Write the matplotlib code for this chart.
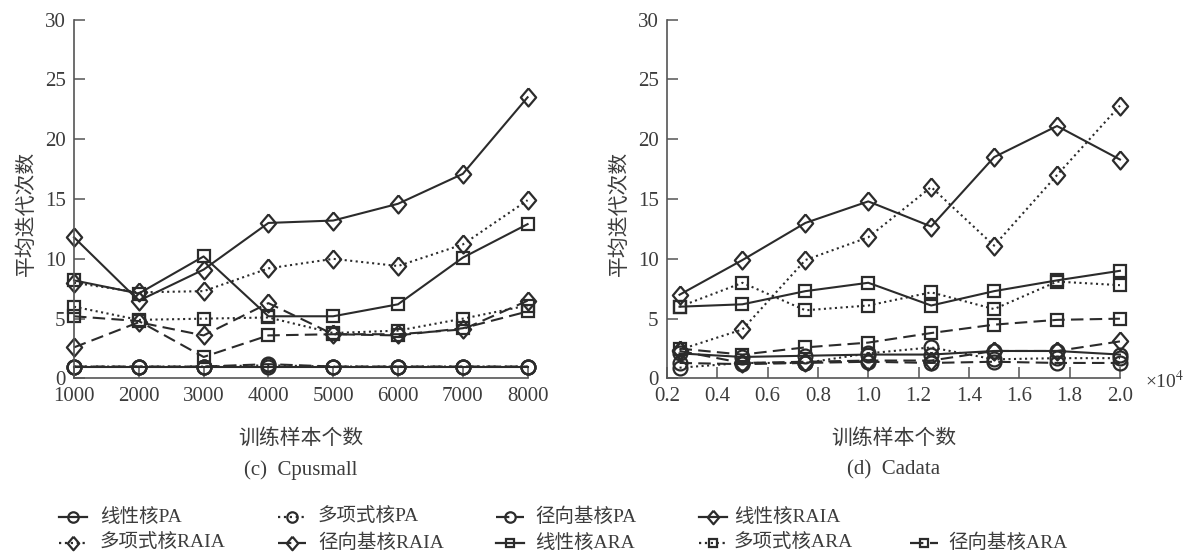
import matplotlib
matplotlib.use("Agg")
import matplotlib.pyplot as plt
from matplotlib.lines import Line2D

plt.rcParams['font.family'] = ['Liberation Serif', 'Noto Sans CJK SC']
plt.rcParams['mathtext.fontset'] = 'stix'

# Cpusmall (left)
x_c = [1000, 2000, 3000, 4000, 5000, 6000, 7000, 8000]
lin_pa_c = [1.0, 1.0, 1.0, 1.0, 1.0, 1.0, 1.0, 1.0]
poly_pa_c = [1.0, 1.0, 1.0, 1.1, 1.0, 1.0, 1.0, 1.0]
rbf_pa_c = [1.0, 1.0, 1.0, 1.2, 1.0, 1.0, 1.0, 1.0]
lin_raia_c = [11.8, 6.5, 9.1, 13.0, 13.2, 14.6, 17.1, 23.5]
poly_raia_c = [8.0, 7.2, 7.3, 9.2, 10.0, 9.4, 11.2, 14.9]
rbf_raia_c = [2.6, 4.7, 3.6, 6.3, 3.7, 3.7, 4.1, 6.5]
lin_ara_c = [8.2, 7.1, 10.2, 5.2, 5.2, 6.2, 10.1, 12.9]
poly_ara_c = [6.0, 4.9, 5.0, 5.1, 3.8, 4.0, 5.0, 6.1]
rbf_ara_c = [5.2, 4.8, 1.8, 3.6, 3.7, 3.6, 4.2, 5.6]

# Cadata (right), x in units of 1e4
x_d = [0.25, 0.5, 0.75, 1.0, 1.25, 1.5, 1.75, 2.0]
lin_pa_d = [2.1, 1.8, 1.9, 2.0, 2.0, 2.3, 2.3, 2.0]
poly_pa_d = [0.9, 1.3, 1.3, 2.1, 2.6, 1.6, 1.7, 1.7]
rbf_pa_d = [1.3, 1.2, 1.3, 1.4, 1.3, 1.4, 1.3, 1.3]
lin_raia_d = [7.0, 9.9, 13.0, 14.8, 12.7, 18.5, 21.1, 18.3]
poly_raia_d = [2.4, 4.1, 9.9, 11.8, 16.0, 11.1, 17.0, 22.8]
rbf_raia_d = [2.3, 1.3, 1.4, 1.5, 1.5, 2.3, 2.3, 3.1]
lin_ara_d = [6.0, 6.2, 7.3, 8.0, 6.1, 7.3, 8.2, 9.0]
poly_ara_d = [6.0, 8.0, 5.7, 6.1, 7.2, 5.8, 8.1, 7.8]
rbf_ara_d = [2.5, 2.0, 2.6, 3.0, 3.8, 4.5, 4.9, 5.0]

labels = ['线性核PA', '多项式核PA', '径向基核PA', '线性核RAIA', '多项式核RAIA',
          '径向基核RAIA', '线性核ARA', '多项式核ARA', '径向基核ARA']
dash = (0, (6, 3))
styles = ['-', ':', dash, '-', ':', dash, '-', ':', dash]
# diamond a little taller than wide, like the original
diamond = [(0, 1.18), (1, 0), (0, -1.18), (-1, 0), (0, 1.18)]
markers = ['o', 'o', 'o', diamond, diamond, diamond, 's', 's', 's']
msizes = [10, 10, 10, 13, 13, 13, 8, 8, 8]

series_c = [lin_pa_c, poly_pa_c, rbf_pa_c, lin_raia_c, poly_raia_c, rbf_raia_c,
            lin_ara_c, poly_ara_c, rbf_ara_c]
series_d = [lin_pa_d, poly_pa_d, rbf_pa_d, lin_raia_d, poly_raia_d, rbf_raia_d,
            lin_ara_d, poly_ara_d, rbf_ara_d]

line_col = '#2b2b2b'
txt_col = '#3c3c3c'
spine_col = '#555555'

fig = plt.figure(figsize=(11.84, 5.59), dpi=100)
ax1 = fig.add_axes([0.0625, 0.3229, 0.3831, 0.6422])
ax2 = fig.add_axes([0.5633, 0.3229, 0.3826, 0.6422])


def style_axes(ax):
    for s in ['top', 'right']:
        ax.spines[s].set_visible(False)
    for s in ['left', 'bottom']:
        ax.spines[s].set_color(spine_col)
        ax.spines[s].set_linewidth(1.2)
    ax.tick_params(direction='in', length=8, width=1.1, color=spine_col,
                   labelsize=15, labelcolor=txt_col, pad=6)
    ax.set_ylim(0, 30)
    ax.set_yticks([0, 5, 10, 15, 20, 25, 30])
    ax.set_ylabel('平均迭代次数', fontsize=15, color=txt_col)
    ax.yaxis.set_label_coords(-0.082, 0.46)
    ax.set_xlabel('训练样本个数', fontsize=15, color=txt_col)
    ax.xaxis.set_label_coords(0.5, -0.14)


for ax, xs, series in [(ax1, x_c, series_c), (ax2, x_d, series_d)]:
    for ys, ls, mk, ms in zip(series, styles, markers, msizes):
        ax.plot(xs, ys, linestyle=ls, marker=mk, markersize=ms, color=line_col,
                markerfacecolor='none', markeredgewidth=1.6, linewidth=1.5,
                clip_on=False)
    style_axes(ax)

ax1.set_xlim(1000, 8000)
ax1.set_xticks(x_c)
ax2.set_xlim(0.2, 2.0)
ax2.set_xticks([0.2, 0.4, 0.6, 0.8, 1.0, 1.2, 1.4, 1.6, 1.8, 2.0])
ax2.set_xticklabels(['0.2', '0.4', '0.6', '0.8', '1.0', '1.2', '1.4', '1.6', '1.8', '2.0'])

ax1.text(0.5, -0.255, '(c)  Cpusmall', transform=ax1.transAxes, ha='center',
         va='center', fontsize=15, color=txt_col)
ax2.text(0.5, -0.255, '(d)  Cadata', transform=ax2.transAxes, ha='center',
         va='center', fontsize=15, color=txt_col)
fig.text(1145 / 1184, 1 - 381 / 559, r'×10$^{4}$', fontsize=14, color=txt_col,
         ha='left', va='center')

# legend, drawn by hand to keep the 4 + 5 layout
W, H = 1184.0, 559.0
pos = [(73, 100, 517), (292, 318, 517), (510, 535, 517), (713, 734, 517),
       (73, 100, 543), (292, 318, 543), (510, 535, 543), (713, 734, 543),
       (924, 948, 543)]
for i, (hx, tx, ty) in enumerate(pos):
    xs = [(hx - 14) / W, hx / W, (hx + 14) / W]
    yy = [1 - ty / H] * 3
    fig.add_artist(Line2D(xs, yy, linestyle=styles[i], marker=markers[i],
                          markevery=[1], markersize=msizes[i] * 0.75,
                          color=line_col, markerfacecolor='none',
                          markeredgewidth=1.6, linewidth=1.6,
                          transform=fig.transFigure))
    fig.text(tx / W, 1 - ty / H, labels[i], fontsize=14, color=txt_col,
             ha='left', va='center')

fig.savefig('out.png', dpi=100)
